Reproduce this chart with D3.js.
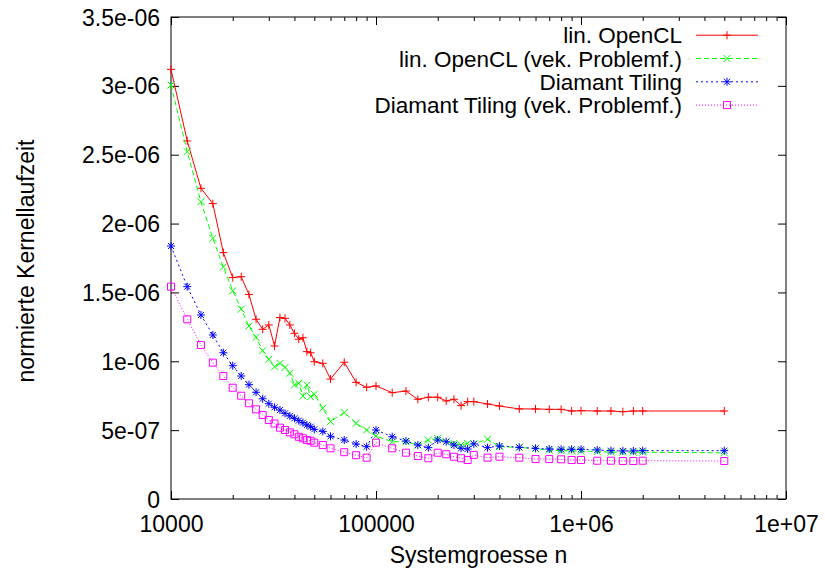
<!DOCTYPE html>
<html>
<head>
<meta charset="utf-8">
<script src="https://cdn.jsdelivr.net/npm/d3@7"></script>
<style>
  body { margin: 0; background: #fff; }
  text { font-family: "Liberation Sans", Arial, sans-serif; }
</style>
</head>
<body>
<svg id="chart" width="825" height="572"></svg>
<script>
// Problem sizes (x values), shared by all four series
const sizes = [
  10000, 12000, 14000, 16000, 18000, 20000, 22000, 24000, 26000, 28000,
  30000, 32000, 34000, 36000, 38000, 40000, 42000, 44000, 46000, 48000,
  50000, 55000, 60000, 70000, 80000, 90000, 100000, 120000, 140000, 160000,
  180000, 200000, 220000, 240000, 260000, 280000, 300000, 350000, 400000, 500000,
  600000, 700000, 800000, 900000, 1000000, 1200000, 1400000, 1600000, 1800000, 2000000,
  5000000,
];

// Normalised kernel run times, in units of 1e-6
const linOpenCL = [
  3.12, 2.60, 2.256, 2.145, 1.789, 1.608, 1.614, 1.485, 1.305, 1.232,
  1.264, 1.111, 1.318, 1.312, 1.264, 1.203, 1.160, 1.171, 1.070, 1.062,
  0.997, 0.985, 0.871, 0.993, 0.847, 0.811, 0.821, 0.772, 0.784, 0.724,
  0.739, 0.739, 0.712, 0.724, 0.678, 0.707, 0.707, 0.690, 0.675, 0.654,
  0.654, 0.651, 0.651, 0.639, 0.641, 0.639, 0.639, 0.634, 0.639, 0.639,
  0.639,
];
const linOpenCLVek = [
  3.006, 2.522, 2.159, 1.893, 1.685, 1.512, 1.378, 1.256, 1.174, 1.077,
  1.014, 0.96, 0.985, 0.955, 0.913, 0.828, 0.84, 0.748, 0.828, 0.743,
  0.76, 0.659, 0.563, 0.628, 0.55, 0.501, 0.457, 0.416, 0.416, 0.392,
  0.428, 0.44, 0.416, 0.404, 0.392, 0.404, 0.40, 0.434, 0.38, 0.375,
  0.365, 0.355, 0.35, 0.35, 0.348, 0.345, 0.34, 0.34, 0.34, 0.34,
  0.335,
];
const diamant = [
  1.837, 1.542, 1.336, 1.191, 1.062, 0.968, 0.893, 0.83, 0.775, 0.728,
  0.692, 0.666, 0.646, 0.622, 0.603, 0.586, 0.569, 0.554, 0.537, 0.525,
  0.506, 0.491, 0.455, 0.428, 0.399, 0.38, 0.501, 0.452, 0.421, 0.392,
  0.373, 0.428, 0.416, 0.392, 0.368, 0.363, 0.40, 0.373, 0.385, 0.375,
  0.368, 0.363, 0.361, 0.361, 0.361, 0.356, 0.351, 0.349, 0.349, 0.351,
  0.351,
];
const diamantVek = [
  1.542, 1.305, 1.118, 0.99, 0.893, 0.808, 0.75, 0.695, 0.651, 0.61,
  0.574, 0.548, 0.518, 0.501, 0.484, 0.47, 0.452, 0.441, 0.428, 0.423,
  0.409, 0.392, 0.368, 0.34, 0.318, 0.30, 0.409, 0.368, 0.336, 0.312,
  0.296, 0.336, 0.325, 0.307, 0.296, 0.283, 0.32, 0.30, 0.307, 0.30,
  0.29, 0.29, 0.288, 0.283, 0.283, 0.278, 0.278, 0.276, 0.276, 0.278,
  0.276,
];

const seriesNames = [
  'lin. OpenCL',
  'lin. OpenCL (vek. Problemf.)',
  'Diamant Tiling',
  'Diamant Tiling (vek. Problemf.)',
];
const seriesValues = [linOpenCL, linOpenCLVek, diamant, diamantVek];
const seriesColours = ['#ff0000', '#00ff00', '#0000ff', '#ff00ff'];
const seriesDashes = [null, '5,3', '2,3', '1,2'];
const seriesMarkers = ['plus', 'cross', 'star', 'square'];

// Tick values and labels
const xTicks = [1e4, 1e5, 1e6, 1e7];
const xTickLabels = ['10000', '100000', '1e+06', '1e+07'];
const yTicks = [0, 0.5, 1, 1.5, 2, 2.5, 3, 3.5];
const yTickLabels = ['0', '5e-07', '1e-06', '1.5e-06', '2e-06', '2.5e-06', '3e-06', '3.5e-06'];

// Minor x ticks: 2..9 in every decade
const xMinorTicks = [];
[1e4, 1e5, 1e6].forEach((d) => {
  for (let k = 2; k <= 9; k++) xMinorTicks.push(k * d);
});

const svg = d3.select('#chart');
const plotLeft = 171, plotRight = 786, plotTop = 17, plotBottom = 499;
const fontSize = '23px';

const x = d3.scaleLog().domain([1e4, 1e7]).range([plotLeft, plotRight]);
const y = d3.scaleLinear().domain([0, 3.5]).range([plotBottom, plotTop]);

// Marker shapes as path strings centred on 0,0
function markerPath(type) {
  const p = 4, c = 3.5, s = 3.5;
  const plus = `M${-p},0H${p}M0,${-p}V${p}`;
  const cross = `M${-c},${-c}L${c},${c}M${-c},${c}L${c},${-c}`;
  if (type === 'plus') return plus;
  if (type === 'cross') return cross;
  if (type === 'star') return plus + 'M-3,-3L3,3M-3,3L3,-3';
  return `M${-s},${-s}H${s}V${s}H${-s}Z`;
}

// Axes with inward ticks, mirrored on top and right
function styleAxis(g) {
  g.select('.domain').remove();
  g.selectAll('line').attr('stroke', '#000').attr('stroke-width', 1);
}

svg.append('g')
  .attr('transform', `translate(0,${plotBottom})`)
  .call(d3.axisBottom(x).tickValues(xMinorTicks).tickSize(-4).tickFormat(''))
  .call(styleAxis);
svg.append('g')
  .attr('transform', `translate(0,${plotTop})`)
  .call(d3.axisTop(x).tickValues(xMinorTicks).tickSize(-4).tickFormat(''))
  .call(styleAxis);

const xAxis = svg.append('g')
  .attr('transform', `translate(0,${plotBottom})`)
  .call(d3.axisBottom(x).tickValues(xTicks).tickSize(-8).tickPadding(17)
    .tickFormat((d, i) => xTickLabels[i]))
  .call(styleAxis);
svg.append('g')
  .attr('transform', `translate(0,${plotTop})`)
  .call(d3.axisTop(x).tickValues(xTicks).tickSize(-8).tickFormat(''))
  .call(styleAxis);

const yAxis = svg.append('g')
  .attr('transform', `translate(${plotLeft},0)`)
  .call(d3.axisLeft(y).tickValues(yTicks).tickSize(-8).tickPadding(11)
    .tickFormat((d, i) => yTickLabels[i]))
  .call(styleAxis);
svg.append('g')
  .attr('transform', `translate(${plotRight},0)`)
  .call(d3.axisRight(y).tickValues(yTicks).tickSize(-8).tickFormat(''))
  .call(styleAxis);

[xAxis, yAxis].forEach((g) => {
  g.attr('font-size', null).attr('font-family', null);
  g.selectAll('text').attr('fill', '#000').style('font-size', fontSize);
});
yAxis.selectAll('text').attr('dy', '0.35em');

// Plot border
svg.append('rect')
  .attr('x', plotLeft).attr('y', plotTop)
  .attr('width', plotRight - plotLeft).attr('height', plotBottom - plotTop)
  .attr('fill', 'none').attr('stroke', '#000').attr('stroke-width', 1);

// Axis titles
svg.append('text')
  .attr('x', (plotLeft + plotRight) / 2).attr('y', 563)
  .attr('text-anchor', 'middle').style('font-size', fontSize)
  .text('Systemgroesse n');
svg.append('text')
  .attr('transform', `translate(34,${(plotTop + plotBottom) / 2 + 3}) rotate(-90)`)
  .attr('text-anchor', 'middle').style('font-size', fontSize)
  .text('normierte Kernellaufzeit');

// Series
const line = d3.line().x((d) => x(d[0])).y((d) => y(d[1]));
seriesValues.forEach((vals, i) => {
  const pts = sizes.map((n, j) => [n, vals[j]]);
  const g = svg.append('g');
  g.append('path')
    .datum(pts)
    .attr('d', line)
    .attr('fill', 'none')
    .attr('stroke', seriesColours[i])
    .attr('stroke-width', 1)
    .attr('stroke-dasharray', seriesDashes[i]);
  g.selectAll('.marker')
    .data(pts)
    .enter()
    .append('path')
    .attr('class', 'marker')
    .attr('transform', (d) => `translate(${x(d[0])},${y(d[1])})`)
    .attr('d', markerPath(seriesMarkers[i]))
    .attr('fill', 'none')
    .attr('stroke', seriesColours[i])
    .attr('stroke-width', 1);
});

// Legend, top right inside the plot
const legend = svg.append('g');
seriesNames.forEach((name, i) => {
  const cy = 35.2 + i * 23.3;
  legend.append('text')
    .attr('x', 682).attr('y', cy).attr('dy', '0.36em')
    .attr('text-anchor', 'end').style('font-size', '22.5px')
    .text(name);
  legend.append('line')
    .attr('x1', 696).attr('x2', 758).attr('y1', cy).attr('y2', cy)
    .attr('stroke', seriesColours[i]).attr('stroke-width', 1)
    .attr('stroke-dasharray', seriesDashes[i]);
  legend.append('path')
    .attr('transform', `translate(727,${cy})`)
    .attr('d', markerPath(seriesMarkers[i]))
    .attr('fill', 'none').attr('stroke', seriesColours[i]).attr('stroke-width', 1);
});
</script>
</body>
</html>
